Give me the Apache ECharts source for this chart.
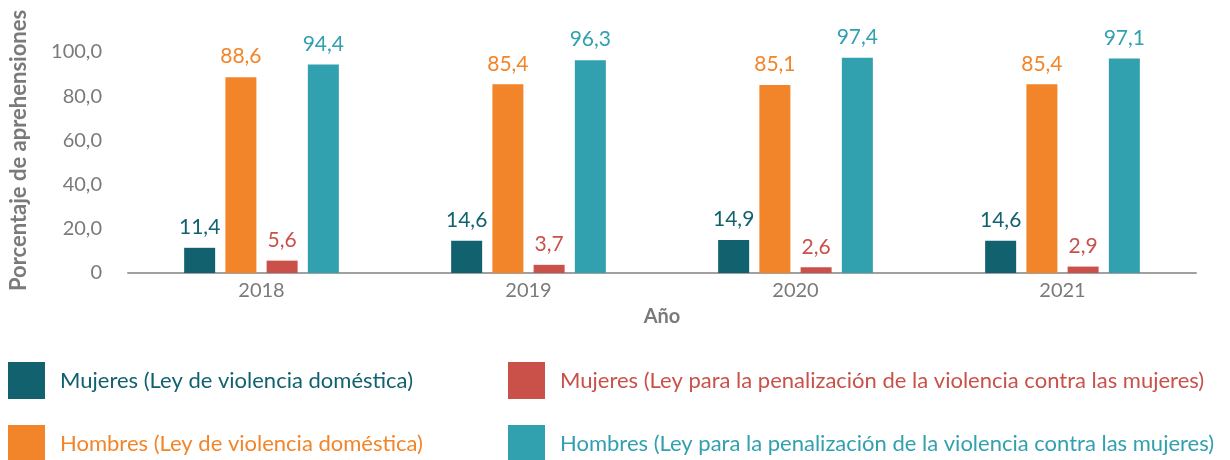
<!DOCTYPE html>
<html>
<head>
<meta charset="utf-8">
<script src="https://cdn.jsdelivr.net/npm/echarts@6/dist/echarts.min.js"></script>
<style>
  html, body { margin: 0; padding: 0; background: #fff; }
  #chart { width: 1230px; height: 460px; }
</style>
</head>
<body>
<div id="chart"></div>
<script>
// datos
var years = ['2018', '2019', '2020', '2021'];
var seriesNames = [
  'Mujeres (Ley de violencia doméstica)',
  'Hombres (Ley de violencia doméstica)',
  'Mujeres (Ley para la penalización de la violencia contra las mujeres)',
  'Hombres (Ley para la penalización de la violencia contra las mujeres)'
];
var mujeresVD = [11.4, 14.6, 14.9, 14.6];
var hombresVD = [88.6, 85.4, 85.1, 85.4];
var mujeresLP = [5.6, 3.7, 2.6, 2.9];
var hombresLP = [94.4, 96.3, 97.4, 97.1];
var colors = ['#11616f', '#f28529', '#c9514a', '#31a0af'];

var FONT = 'Lato';
var GRAY = '#7a7a7a';

function fmt(v) {
  return v.toFixed(1).replace('.', ',');
}

function makeSerie(i, values) {
  return {
    name: seriesNames[i],
    type: 'bar',
    data: values,
    barWidth: 31,
    barGap: '33%',
    itemStyle: { color: colors[i] },
    label: {
      show: true,
      position: 'top',
      distance: 10,
      color: colors[i],
      fontFamily: FONT,
      fontSize: 21,
      formatter: function (p) { return fmt(p.value); }
    }
  };
}

// una leyenda por serie: dos columnas, dos filas
var legendPos = [[8, 362], [8, 425], [508, 362], [508, 425]];
function makeLegend(i) {
  return {
    data: [seriesNames[i]],
    left: legendPos[i][0], top: legendPos[i][1],
    padding: 0,
    itemWidth: 37, itemHeight: 37,
    icon: 'rect',
    textStyle: { color: colors[i], fontFamily: FONT, fontSize: 22, padding: [0, 0, 0, 10] }
  };
}

var chart = echarts.init(document.getElementById('chart'));
chart.setOption({
  animation: false,
  grid: { left: 126, right: 34, top: 52, bottom: 187 },
  legend: [makeLegend(0), makeLegend(1), makeLegend(2), makeLegend(3)],
  xAxis: {
    type: 'category',
    data: years,
    name: 'Año',
    nameLocation: 'middle',
    nameGap: 34,
    nameTextStyle: { color: GRAY, fontFamily: FONT, fontSize: 20, fontWeight: 'bold', verticalAlign: 'top' },
    axisLine: { lineStyle: { color: '#a0a0a0', width: 2 } },
    axisTick: { show: false },
    axisLabel: { color: GRAY, fontFamily: FONT, fontSize: 20, margin: 8 }
  },
  yAxis: {
    type: 'value',
    min: 0, max: 100, interval: 20,
    name: 'Porcentaje de aprehensiones',
    nameLocation: 'middle',
    nameGap: 98,
    nameTextStyle: { color: GRAY, fontFamily: FONT, fontSize: 22, fontWeight: 'bold', padding: [0, 0, 0, 24] },
    axisLine: { show: false },
    axisTick: { show: false },
    splitLine: { show: false },
    axisLabel: {
      color: GRAY, fontFamily: FONT, fontSize: 20, margin: 26,
      formatter: function (v) { return v === 0 ? '0' : fmt(v); }
    }
  },
  series: [
    makeSerie(0, mujeresVD),
    makeSerie(1, hombresVD),
    makeSerie(2, mujeresLP),
    makeSerie(3, hombresLP)
  ]
});
</script>
</body>
</html>
